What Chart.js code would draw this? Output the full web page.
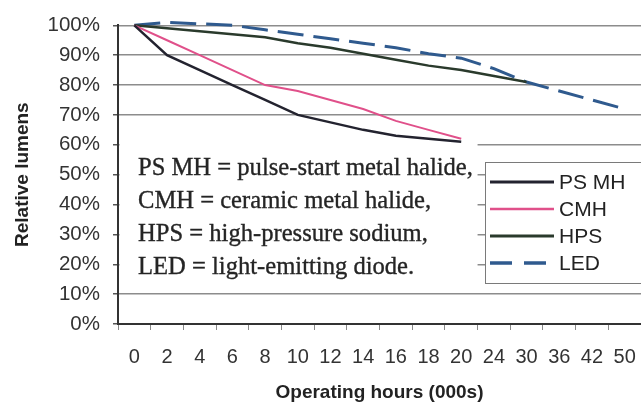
<!DOCTYPE html>
<html><head><meta charset="utf-8">
<script src="https://cdn.jsdelivr.net/npm/chart.js@4.4.1/dist/chart.umd.min.js"></script>
<style>
html,body{margin:0;padding:0;background:#fff;overflow:hidden}
#wrap{position:relative;width:641px;height:404px}
canvas{display:block}
#note{position:absolute;left:138px;top:150px;font-family:"Liberation Serif",serif;font-size:24.6px;line-height:33px;color:#252525;white-space:nowrap;-webkit-text-stroke:0.35px #252525}
#legend{position:absolute;left:485px;top:162px;width:160px;height:122px;background:#fff;border:1.5px solid #7a7a7a;box-sizing:border-box;font-family:"Liberation Sans",Arial,sans-serif;font-size:21px;color:#222}
.item{position:absolute;left:4px;height:27px;display:flex;align-items:center;white-space:nowrap}
.item svg{margin-right:5px}
</style></head>
<body>
<div id="wrap">
<canvas id="c" width="641" height="404"></canvas>
<div id="note">PS MH = pulse-start metal halide,<br>CMH = ceramic metal halide,<br>HPS = high-pressure sodium,<br>LED = light-emitting diode.</div>
<div id="legend"></div>
</div>
<script>
const hours = ['0','2','4','6','8','10','12','14','16','18','20','24','30','36','42','50'];
const seriesNames = ['PS MH','CMH','HPS','LED'];
const psmh = [100,90,85,80,75,70,67.5,65,63,62,61];
const cmh  = [100,95,90,85,80,78,75,72,68,65,62];
const hps  = [100,99,98,97,96,94,92.5,90.5,88.5,86.5,85,83,81];
const led  = [100,101,100.5,100,98.5,97,95.5,94,92.5,90.5,89,85.5,81,78,75,72];
const yTicks = [0,10,20,30,40,50,60,70,80,90,100];

const colors = ['#23232f','#e0508a','#2a3a2c','#2f5a8e'];
const dashes = [[],[],[],[26,10]];
const widths = [2.5,2,2.5,3];
const values = [psmh,cmh,hps,led];

const FONT = '"Liberation Sans", Arial, sans-serif';

const boxPlugin = {
  id:'notebox',
  beforeDatasetsDraw(chart){
    const {ctx, chartArea, scales} = chart;
    const x0 = chartArea.left + 1.5;
    const x1 = scales.x.getPixelForValue(10.5);
    const y0 = scales.y.getPixelForValue(60.6);
    const y1 = scales.y.getPixelForValue(13);
    ctx.save();
    ctx.fillStyle = '#fff';
    ctx.fillRect(x0, y0, x1 - x0, y1 - y0);
    ctx.restore();
  }
};

const chart = new Chart(document.getElementById('c'), {
  type:'line',
  data:{
    labels: hours,
    datasets: seriesNames.map((n,i)=>({
      label:n, data:values[i], borderColor:colors[i], backgroundColor:colors[i],
      borderWidth:widths[i], borderDash:dashes[i], pointRadius:0, tension:0, fill:false, clip:false
    }))
  },
  options:{
    responsive:false, animation:false,
    layout:{padding:{top:24,right:0,left:0,bottom:0}},
    plugins:{legend:{display:false}, tooltip:{enabled:false}},
    scales:{
      x:{
        type:'category', offset:true,
        ticks:{color:'#333', font:{family:FONT,size:20}, padding:15, autoSkip:false, maxRotation:0},
        grid:{drawOnChartArea:false, drawTicks:true, tickLength:6, tickColor:'#888', offset:true},
        border:{color:'#333', width:2},
        title:{display:true, text:'Operating hours (000s)', color:'#222', font:{family:FONT,size:19,weight:'bold'}, padding:{top:0,bottom:0}},
        afterFit(s){ s.height = 80; s.paddingLeft = 0; s.paddingRight = 0; }
      },
      y:{
        min:0, max:100,
        afterBuildTicks(s){ s.ticks = yTicks.map(v=>({value:v})); },
        ticks:{color:'#333', font:{family:FONT,size:20.5}, padding:13, callback:v=>v+'%'},
        grid:{color:'#8c8c8c', lineWidth:1.5, tickLength:5, tickColor:'#555'},
        border:{color:'#333', width:2},
        title:{display:true, text:'Relative lumens', color:'#222', font:{family:FONT,size:19,weight:'bold'}, padding:{top:11,bottom:0}},
        afterFit(s){ s.width = 118; }
      }
    }
  },
  plugins:[boxPlugin]
});

// HTML legend built from the datasets
const leg = document.getElementById('legend');
const centers = [19,46,73,100];
chart.data.datasets.forEach((ds,i)=>{
  const d = document.createElement('div');
  d.className='item';
  d.style.top = (centers[i]-13.5)+'px';
  const dash = ds.borderDash && ds.borderDash.length ? 'stroke-dasharray="22 12"' : '';
  d.innerHTML = '<svg width="64" height="10"><line x1="0" y1="5" x2="64" y2="5" stroke="'+ds.borderColor+'" stroke-width="'+(ds.borderWidth+0.5)+'" '+dash+'/></svg><span>'+ds.label+'</span>';
  leg.appendChild(d);
});
</script>
</body></html>
